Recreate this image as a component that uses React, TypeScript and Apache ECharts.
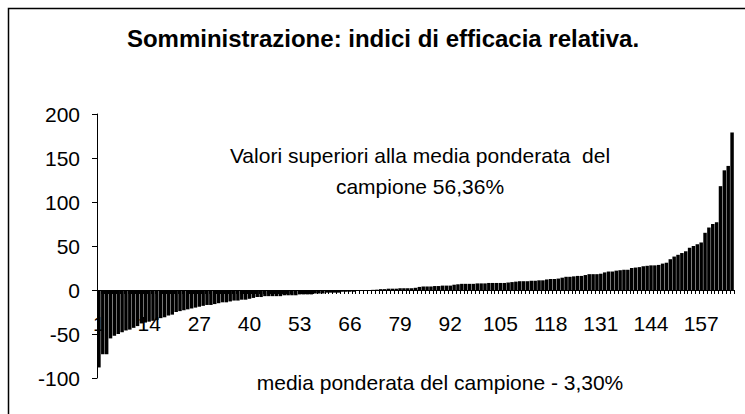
import React, { useEffect, useRef } from "react";
import * as echarts from "echarts";

const values: number[] = [
  -88, -73, -73, -55, -52, -50, -48, -46, -45, -43,
  -41, -38, -37, -36, -35, -34, -32, -31, -29, -28,
  -25, -24, -23, -22, -21, -20, -19, -18, -17, -17,
  -16, -15, -14, -14, -13, -12, -12, -11, -11, -10,
  -9, -8, -8, -7, -7, -7, -7, -7, -6, -6,
  -6, -6, -5, -5, -5, -5, -4, -4, -4, -3,
  -3, -3, -3, -2, -2, -2, -2, -1, -0.6, -0.3,
  0, 0.2, 0.4, 1, 1, 1.5, 1.5, 1.5, 2, 2,
  2, 2, 2.5, 3.5, 4, 4, 4, 4.5, 4.5, 5,
  5, 5, 6, 6.5, 7, 7, 7, 7, 7.5, 7.5,
  7.5, 8, 8, 8, 8, 8, 8.5, 9, 9.5, 10,
  10, 10, 10.5, 10.5, 11, 11, 12, 12.5, 12.5, 13,
  14, 15, 15, 15.5, 16, 16, 17, 18, 18, 18,
  18.5, 20, 21, 21, 22, 22.5, 23, 23, 25, 25.5,
  26, 27, 27.5, 28, 28, 28.5, 30, 31, 35, 38,
  40, 42, 44, 48, 50, 52, 54, 65, 71, 75,
  77, 118, 136, 141, 179,
];

const categories: string[] = values.map((_, i) => String(i + 1));

const titleText = "Somministrazione: indici di efficacia relativa.";
const noteTopLines = ["Valori superiori alla media ponderata  del", "campione 56,36%"];
const noteBottom = "media ponderata del campione - 3,30%";

const yMin = -100;
const yMax = 200;
const yStep = 50;

const FONT = "'Liberation Sans', Arial, sans-serif";

const GRID_TOP = 114;
const GRID_BOTTOM = 36;
const CHART_H = 414;

export default function App() {
  const ref = useRef<HTMLDivElement>(null);
  useEffect(() => {
    if (!ref.current) return;
    const chart = echarts.init(ref.current, null, { renderer: "svg" });
    const gridH = CHART_H - GRID_TOP - GRID_BOTTOM;
    const zeroOffset = (gridH * (0 - yMin)) / (yMax - yMin);
    chart.setOption({
      animation: false,
      backgroundColor: "#fff",
      grid: {
        left: 97,
        right: 11,
        top: GRID_TOP,
        bottom: GRID_BOTTOM,
        containLabel: false,
        outerBoundsMode: "none",
      },
      xAxis: {
        type: "category",
        data: categories,
        position: "bottom",
        offset: -zeroOffset,
        axisLine: { onZero: false, lineStyle: { color: "#000", width: 1 } },
        axisTick: { show: true, interval: 0, length: 4, lineStyle: { color: "#000" } },
        axisLabel: {
          interval: 12,
          margin: 23,
          fontSize: 21,
          color: "#000",
          fontFamily: FONT,
        },
        splitLine: { show: false },
      },
      yAxis: {
        type: "value",
        min: yMin,
        max: yMax,
        interval: yStep,
        axisLine: { show: true, lineStyle: { color: "#000", width: 1 } },
        axisTick: { show: true, length: 5, lineStyle: { color: "#000" } },
        axisLabel: { margin: 17, fontSize: 21, color: "#000", fontFamily: FONT },
        splitLine: { show: false },
      },
      series: [
        {
          type: "bar",
          data: values,
          barCategoryGap: "10%",
          itemStyle: { color: "#000" },
        },
      ],
      graphic: [
        {
          type: "rect",
          shape: { x: 8.5, y: 8.5, width: 760, height: 430 },
          style: { fill: "none", stroke: "#000", lineWidth: 1.5 },
          silent: true,
        },
        {
          type: "text",
          x: 383,
          y: 38,
          style: {
            text: titleText,
            fontSize: 24,
            fontWeight: "bold",
            fontFamily: FONT,
            fill: "#000",
            align: "center",
            verticalAlign: "middle",
          },
        },
        {
          type: "text",
          x: 420,
          y: 155,
          style: {
            text: noteTopLines[0],
            fontSize: 21,
            fontFamily: FONT,
            fill: "#000",
            align: "center",
            verticalAlign: "middle",
          },
        },
        {
          type: "text",
          x: 420,
          y: 186,
          style: {
            text: noteTopLines[1],
            fontSize: 21,
            fontFamily: FONT,
            fill: "#000",
            align: "center",
            verticalAlign: "middle",
          },
        },
        {
          type: "text",
          x: 440,
          y: 382,
          style: {
            text: noteBottom,
            fontSize: 21,
            fontFamily: FONT,
            fill: "#000",
            align: "center",
            verticalAlign: "middle",
          },
        },
      ],
    });
    return () => chart.dispose();
  }, []);
  return (
    <div
      ref={ref}
      style={{ position: "fixed", left: 0, top: 0, width: 745, height: 414 }}
    />
  );
}
